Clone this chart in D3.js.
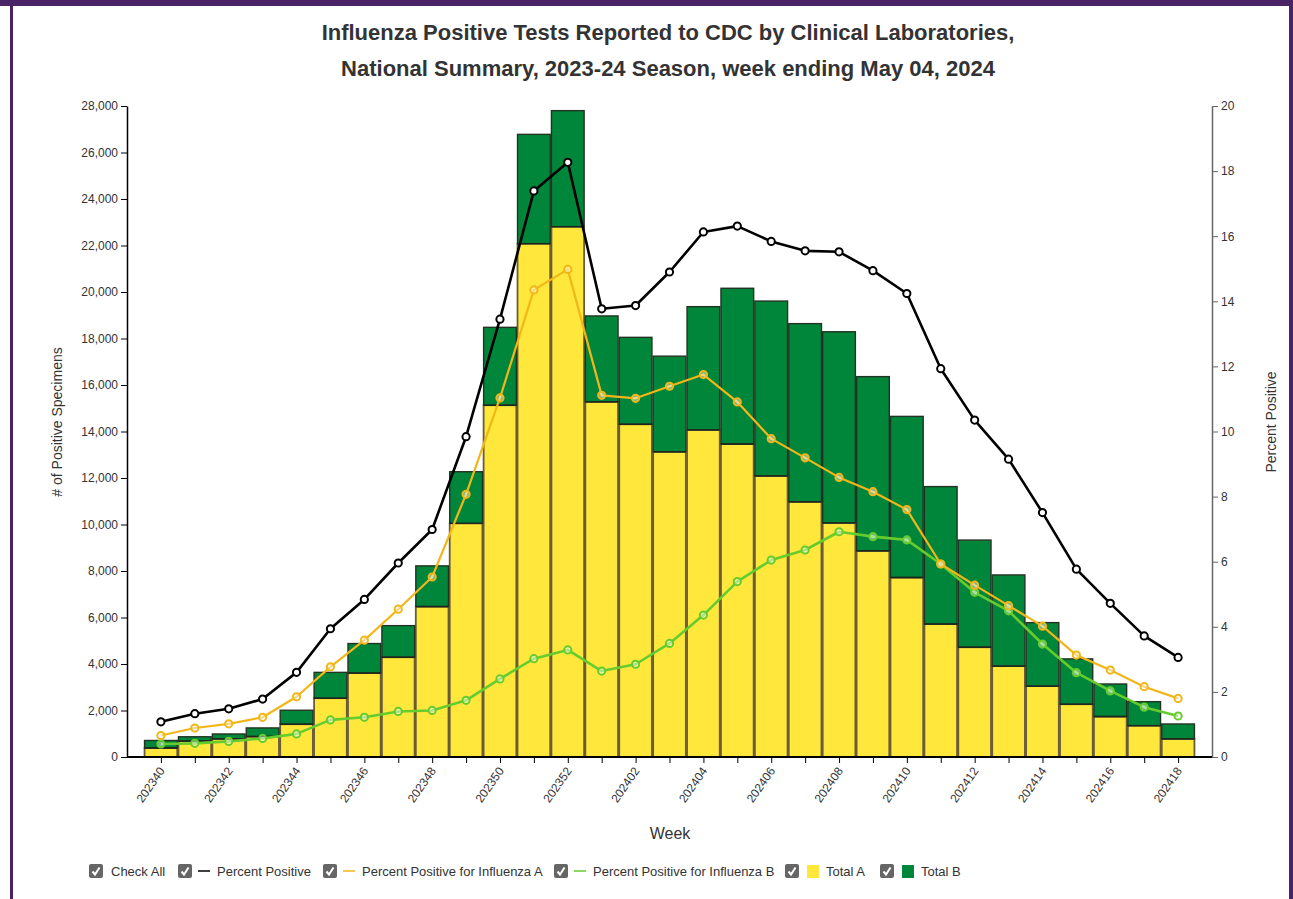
<!DOCTYPE html>
<html><head><meta charset="utf-8">
<script src="https://cdn.jsdelivr.net/npm/d3@7"></script>
<style>
body{margin:0;background:#fff;}
svg{display:block;font-family:"Liberation Sans",Arial,sans-serif;}
</style></head>
<body><svg id="chart" width="1293" height="899"></svg>
<script>
const weeks = ["202340","202341","202342","202343","202344","202345","202346","202347","202348","202349","202350","202351","202352","202401","202402","202403","202404","202405","202406","202407","202408","202409","202410","202411","202412","202413","202414","202415","202416","202417","202418"];
const totalA = [390,690,780,880,1410,2530,3610,4290,6470,10050,15130,22080,22810,15280,14310,13130,14070,13460,12090,10980,10070,8870,7720,5720,4720,3910,3050,2270,1740,1350,780];
const totalB = [320,180,210,370,600,1110,1270,1360,1750,2220,3350,4700,4990,3690,3740,4110,5300,6700,7520,7660,8220,7490,6930,5910,4610,3920,2730,1950,1400,1030,640];
const pctPositive = [1.08,1.33,1.48,1.78,2.60,3.94,4.84,5.96,6.99,9.84,13.45,17.39,18.27,13.77,13.87,14.90,16.13,16.31,15.84,15.55,15.52,14.94,14.24,11.93,10.35,9.15,7.51,5.77,4.72,3.72,3.06];
const pctA = [0.66,0.89,1.02,1.22,1.85,2.77,3.59,4.54,5.53,8.07,11.03,14.35,14.98,11.11,11.02,11.39,11.75,10.91,9.78,9.19,8.59,8.15,7.60,5.93,5.28,4.65,4.02,3.13,2.67,2.16,1.80];
const pctB = [0.40,0.42,0.48,0.57,0.71,1.14,1.22,1.40,1.43,1.74,2.40,3.02,3.29,2.64,2.85,3.49,4.36,5.39,6.05,6.36,6.92,6.77,6.67,5.93,5.06,4.49,3.47,2.59,2.03,1.53,1.26];
const leftTicks = [0,2000,4000,6000,8000,10000,12000,14000,16000,18000,20000,22000,24000,26000,28000];
const rightTicks = [0,2,4,6,8,10,12,14,16,18,20];
const titleLines = ["Influenza Positive Tests Reported to CDC by Clinical Laboratories,","National Summary, 2023-24 Season, week ending May 04, 2024"];

const svg = d3.select("#chart");
const L = 127, R = 1212, T = 106, B = 757;
const colA = "#ffe83b", colB = "#00863a", colBlack = "#000", colOrange = "#f2b619", colGreen = "#66cc2e";

// frame
svg.append("rect").attr("x",0).attr("y",0).attr("width",1293).attr("height",6).attr("fill","#4a2366");
svg.append("rect").attr("x",10).attr("y",0).attr("width",3).attr("height",899).attr("fill","#4a2366");
svg.append("rect").attr("x",1289).attr("y",0).attr("width",4).attr("height",899).attr("fill","#4a2366");

// title
svg.selectAll("text.title").data(titleLines).join("text").attr("class","title")
  .attr("x",668).attr("y",(d,i)=>40+i*36).attr("text-anchor","middle")
  .attr("font-family","'Liberation Sans Narrow','Arial Narrow',sans-serif")
  .attr("font-weight","bold").attr("font-size",22).attr("fill","#333").text(d=>d);

const x = d3.scalePoint().domain(weeks).range([L,R]).padding(1);
const step = x.step();
const yL = d3.scaleLinear().domain([0,28000]).range([B,T]);
const yR = d3.scaleLinear().domain([0,20]).range([B,T]);

// bars
const bw = step - 1.2;
const g = svg.append("g");
g.selectAll("rect.a").data(weeks).join("rect").attr("class","a")
  .attr("x",d=>x(d)-bw/2).attr("width",bw)
  .attr("y",(d,i)=>yL(totalA[i])).attr("height",(d,i)=>B-yL(totalA[i]))
  .attr("fill",colA).attr("stroke","#6a5c36").attr("stroke-width",1.8);
g.selectAll("rect.b").data(weeks).join("rect").attr("class","b")
  .attr("x",d=>x(d)-bw/2).attr("width",bw)
  .attr("y",(d,i)=>yL(totalA[i]+totalB[i])).attr("height",(d,i)=>yL(totalA[i])-yL(totalA[i]+totalB[i]))
  .attr("fill",colB).attr("stroke","#233323").attr("stroke-width",1.4);
// A/B boundary line
g.selectAll("line.ab").data(weeks).join("line").attr("class","ab")
  .attr("x1",d=>x(d)-bw/2).attr("x2",d=>x(d)+bw/2)
  .attr("y1",(d,i)=>yL(totalA[i])).attr("y2",(d,i)=>yL(totalA[i]))
  .attr("stroke","#1e261c").attr("stroke-width",1.4);

// axes
const fmt = d3.format(",");
const axL = svg.append("g").attr("transform",`translate(${L},0)`)
  .call(d3.axisLeft(yL).tickValues(leftTicks).tickFormat(fmt).tickSize(6).tickSizeOuter(0));
const axR = svg.append("g").attr("transform",`translate(${R},0)`)
  .call(d3.axisRight(yR).tickValues(rightTicks).tickSize(6).tickSizeOuter(0));
const axX = svg.append("g").attr("transform",`translate(0,${B})`)
  .call(d3.axisBottom(x).tickSize(6).tickSizeOuter(0).tickFormat((d,i)=> i%2===0 ? d : ""));
[axL,axR,axX].forEach(a=>{
  a.selectAll("text").attr("font-size",12).attr("fill","#333").attr("font-family","'Liberation Sans',Arial,sans-serif");
  a.selectAll("line").attr("stroke","#000");
  a.select(".domain").attr("stroke","#000").attr("stroke-width",1.5);
});
axR.select(".domain").attr("stroke","#666");
axR.selectAll("line").attr("stroke","#666");
axX.select(".domain").attr("d",`M${L},0H${R}`).attr("stroke-width",2);
axX.selectAll("text").attr("text-anchor","end").attr("dx","0").attr("dy","0.35em")
  .attr("transform","rotate(-55)").attr("x",-9).attr("y",7);

// axis titles
svg.append("text").attr("transform","translate(62,422) rotate(-90)").attr("text-anchor","middle")
  .attr("font-size",14).attr("fill","#333").text("# of Positive Specimens");
svg.append("text").attr("transform","translate(1276,422) rotate(-90)").attr("text-anchor","middle")
  .attr("font-size",14).attr("fill","#333").text("Percent Positive");
svg.append("text").attr("x",670).attr("y",839).attr("text-anchor","middle")
  .attr("font-size",16).attr("fill","#333").text("Week");

// lines
function drawLine(vals,color,width,fill,fillOp){
  const line = d3.line().x((d,i)=>x(weeks[i])).y(d=>yR(d));
  svg.append("path").datum(vals).attr("d",line).attr("fill","none")
    .attr("stroke",color).attr("stroke-width",width).attr("stroke-linejoin","round");
  svg.append("g").selectAll("circle").data(vals).join("circle")
    .attr("cx",(d,i)=>x(weeks[i])).attr("cy",d=>yR(d)).attr("r",3.6)
    .attr("fill",fill).attr("fill-opacity",fillOp).attr("stroke",color).attr("stroke-width",2);
}
drawLine(pctB,colGreen,2.6,"#fff",0.45);
drawLine(pctA,colOrange,2.2,"#fff",0.45);
drawLine(pctPositive,colBlack,2.6,"#fff",1);

// legend
const legendItems = [
  {label:"Check All", x:89, sym:null},
  {label:"Percent Positive", x:178, sym:"line", color:"#000"},
  {label:"Percent Positive for Influenza A", x:323, sym:"line", color:colOrange},
  {label:"Percent Positive for Influenza B", x:554, sym:"line", color:colGreen},
  {label:"Total A", x:785, sym:"rect", color:colA},
  {label:"Total B", x:880, sym:"rect", color:colB}
];
const lg = svg.append("g").selectAll("g").data(legendItems).join("g")
  .attr("transform",d=>`translate(${d.x},864)`);
lg.append("rect").attr("width",14).attr("height",14).attr("rx",2).attr("fill","#666");
lg.append("path").attr("d","M3.5,7.5 L6,10.5 L10.5,3.5").attr("fill","none").attr("stroke","#fff").attr("stroke-width",2);
lg.filter(d=>d.sym==="line").append("line").attr("x1",20).attr("x2",32).attr("y1",7).attr("y2",7)
  .attr("stroke",d=>d.color).attr("stroke-width",1.5);
lg.filter(d=>d.sym==="rect").append("rect").attr("x",22).attr("y",1).attr("width",12).attr("height",13)
  .attr("fill",d=>d.color);
lg.append("text").attr("x",d=>d.sym===null?22:(d.sym==="line"?39:41)).attr("y",12)
  .attr("font-size",13).attr("fill","#333").text(d=>d.label);
</script></body></html>
